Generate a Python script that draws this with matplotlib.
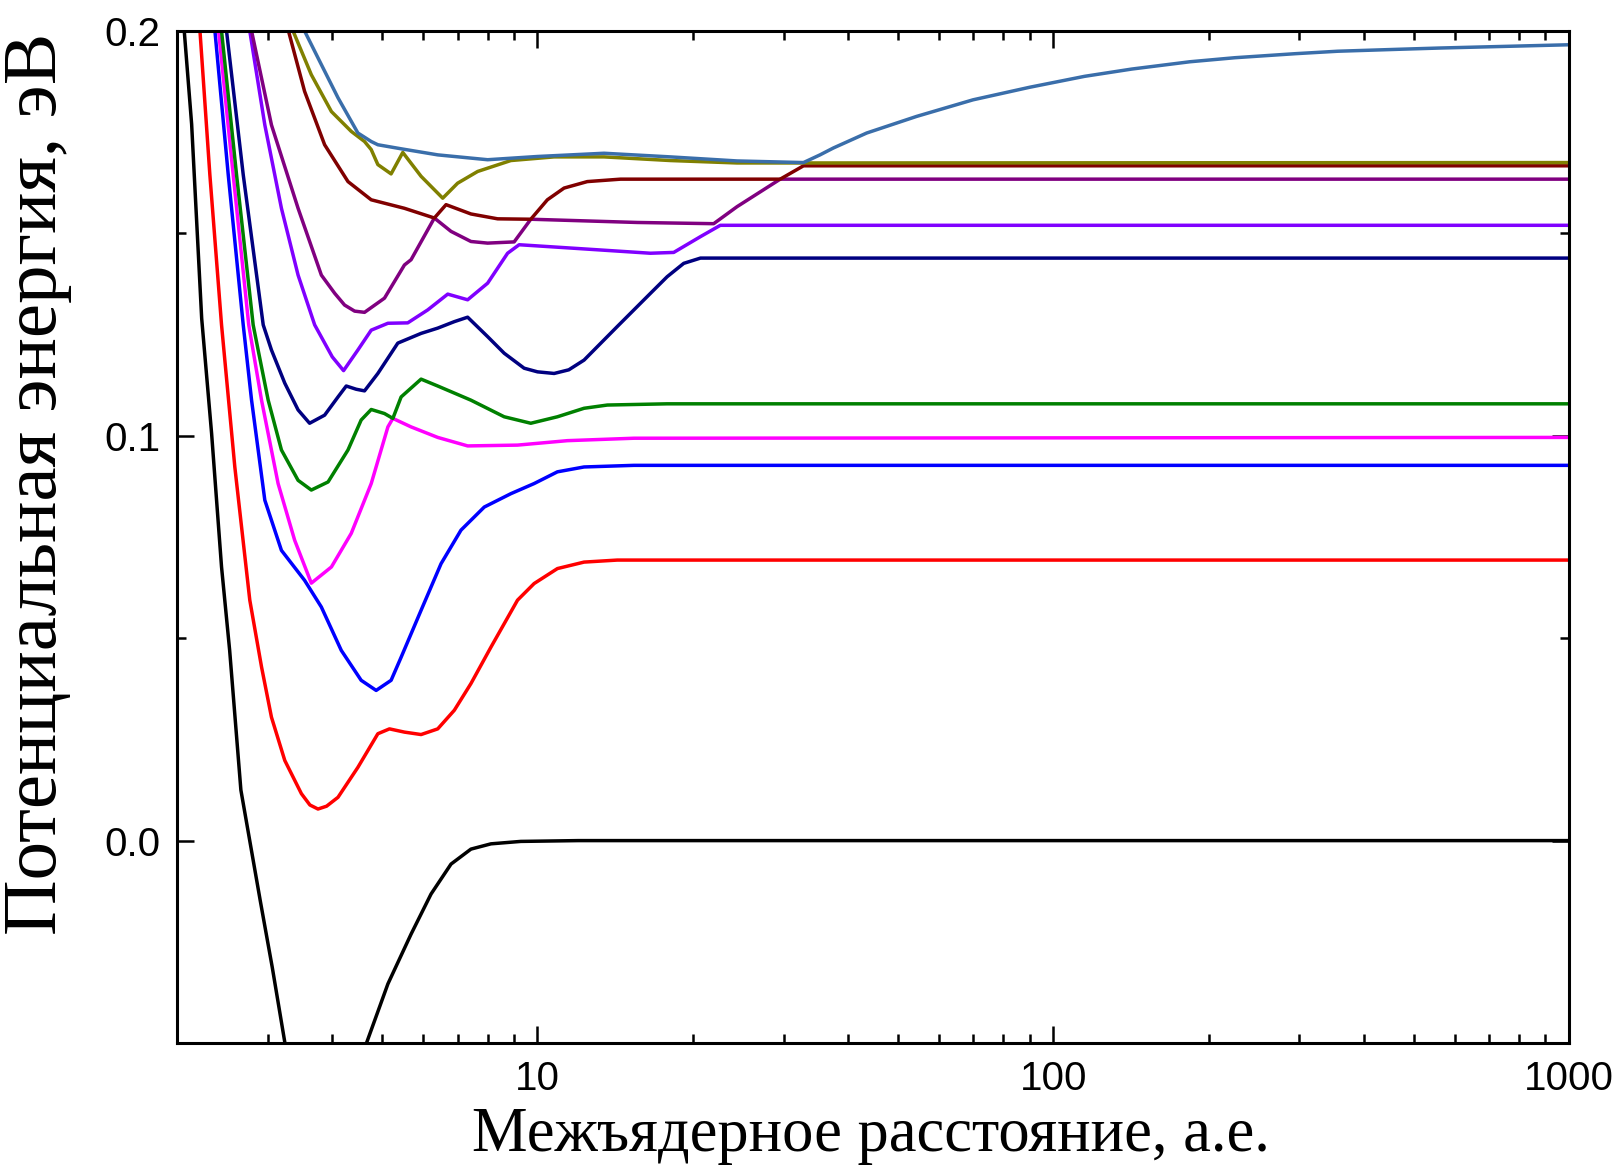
import matplotlib
matplotlib.use("Agg")
import matplotlib.pyplot as plt
from matplotlib.ticker import FixedLocator, LogLocator, NullFormatter, FuncFormatter

# interatomic distance (a.u.) / potential energy (eV)
r_black = [2.067, 2.135, 2.233, 2.334, 2.44, 2.53, 2.66, 2.9, 3.06, 3.24, 3.85,
           4.655, 5.128, 5.687, 6.217, 6.797, 7.43, 8.124, 9.28, 12.0, 1000]
e_black = [0.1996, 0.177, 0.129, 0.1006, 0.0676, 0.047, 0.0125, -0.0148, -0.0313, -0.0502, -0.08,
           -0.0502, -0.0354, -0.0231, -0.0132, -0.0058, -0.0021, -0.0008, -0.0002, 0.0, 0.0]

r_red = [2.216, 2.316, 2.44, 2.589, 2.768, 2.917, 3.049, 3.236, 3.485, 3.62, 3.753, 3.9, 4.104, 4.485,
         4.903, 5.164, 5.521, 5.947, 6.406, 6.898, 7.43, 8.124, 9.147, 9.85, 10.93, 12.31, 14.28, 1000]
e_red = [0.2, 0.1645, 0.1274, 0.0923, 0.0594, 0.0429, 0.0305, 0.0198, 0.0116, 0.0088, 0.0078, 0.0085, 0.0107, 0.0181,
         0.0264, 0.0276, 0.0268, 0.0262, 0.0276, 0.0322, 0.0388, 0.0478, 0.0594, 0.0635, 0.0672, 0.0688, 0.0693, 0.0693]

r_blue = [2.369, 2.514, 2.688, 2.79, 2.96, 3.188, 3.535, 3.81, 4.164, 4.551, 4.866, 5.202, 5.44,
          5.947, 6.501, 7.107, 7.885, 8.878, 9.85, 10.93, 12.31, 15.38, 1000]
e_blue = [0.2, 0.1645, 0.1274, 0.1088, 0.0841, 0.0717, 0.0643, 0.0577, 0.047, 0.0396, 0.0371, 0.0396, 0.0453,
          0.0569, 0.0684, 0.0767, 0.0824, 0.0857, 0.0882, 0.0911, 0.0923, 0.0927, 0.0927]

r_magenta = [2.408, 2.57, 2.755, 2.917, 3.141, 3.382, 3.643, 3.985, 4.354, 4.76, 5.128, 5.243,
             5.687, 6.406, 7.321, 9.147, 11.43, 15.38, 1000]
e_magenta = [0.2, 0.1645, 0.1274, 0.1088, 0.0882, 0.0742, 0.0636, 0.0676, 0.0759, 0.0882, 0.1022, 0.1043,
             0.1022, 0.0996, 0.0975, 0.0977, 0.0988, 0.0994, 0.0996]

r_green = [2.44, 2.609, 2.81, 2.873, 3.005, 3.188, 3.434, 3.643, 3.926, 4.291, 4.551, 4.76, 5.05,
           5.243, 5.44, 5.947, 6.406, 7.43, 8.618, 9.705, 10.93, 12.31, 13.66, 17.84, 1000]
e_green = [0.2, 0.1645, 0.1274, 0.1212, 0.1088, 0.0965, 0.089, 0.0866, 0.0886, 0.0965, 0.1039, 0.1065, 0.1055,
           0.1043, 0.1096, 0.114, 0.1123, 0.1088, 0.1047, 0.1031, 0.1047, 0.1068, 0.1076, 0.1079, 0.1079]

r_navy = [2.495, 2.688, 2.939, 3.049, 3.236, 3.434, 3.615, 3.866, 4.104, 4.258, 4.452, 4.62, 4.903,
          5.36, 5.947, 6.406, 6.898, 7.321, 8.004, 8.618, 9.42, 10.0, 10.77, 11.5, 12.31, 14.28, 16.56,
          17.84, 19.21, 20.7, 1000]
e_navy = [0.2, 0.1645, 0.1274, 0.1212, 0.113, 0.1064, 0.1031, 0.1051, 0.1096, 0.1123, 0.1115, 0.1111, 0.1154,
          0.1229, 0.1253, 0.1266, 0.1282, 0.1293, 0.1245, 0.1204, 0.1167, 0.1158, 0.1154, 0.1163, 0.1187, 0.127, 0.1352,
          0.1393, 0.1426, 0.1439, 0.1439]

r_violet = [2.768, 2.96, 3.188, 3.434, 3.698, 3.81, 4.0, 4.207, 4.485, 4.76, 5.128, 5.603, 6.126,
            6.698, 7.321, 8.004, 8.75, 9.213, 10.61, 13.26, 16.56, 18.37, 20.7, 22.62, 1000]
e_violet = [0.2, 0.1768, 0.1562, 0.1397, 0.1274, 0.1244, 0.1195, 0.1161, 0.1212, 0.1261, 0.1278, 0.1279, 0.1311,
            0.135, 0.1336, 0.1377, 0.1451, 0.1472, 0.1467, 0.1459, 0.1451, 0.1453, 0.1492, 0.152, 0.152]

r_purple = [2.79, 3.049, 3.434, 3.81, 4.044, 4.226, 4.42, 4.62, 5.05, 5.521, 5.687, 6.31, 6.797, 7.43,
            8.004, 9.01, 9.705, 11.6, 15.61, 21.96, 24.37, 29.55, 1000]
e_purple = [0.2, 0.1768, 0.1562, 0.1397, 0.1352, 0.1323, 0.1308, 0.1305, 0.134, 0.1422, 0.1435, 0.1538, 0.1505, 0.148,
            0.1476, 0.1479, 0.1535, 0.1532, 0.1527, 0.1524, 0.1566, 0.1634, 0.1634]

r_darkred = [3.29, 3.535, 3.866, 4.291, 4.76, 5.521, 6.31, 6.648, 7.43, 8.37, 9.705, 10.45, 11.26,
             12.49, 14.49, 29.55, 32.79, 1000]
e_darkred = [0.2, 0.1851, 0.1719, 0.1628, 0.1583, 0.1562, 0.1538, 0.1571, 0.1548, 0.1536, 0.1535, 0.1583, 0.1612,
             0.1628, 0.1634, 0.1634, 0.1667, 0.1667]

r_olive = [3.358, 3.643, 3.985, 4.354, 4.62, 4.76, 4.903, 5.202, 5.48, 5.947, 6.55, 7.0, 7.655, 8.878,
           10.77, 13.46, 18.1, 24.37, 32.79, 1000]
e_olive = [0.2, 0.1892, 0.1801, 0.1752, 0.1727, 0.1707, 0.167, 0.1647, 0.17, 0.1641, 0.1587, 0.1624, 0.1653, 0.168,
           0.1689, 0.1689, 0.168, 0.1674, 0.1674, 0.1675]

r_steel = [3.535, 3.81, 4.104, 4.485, 4.76, 4.903, 5.44, 6.406, 8.004, 10.0, 13.46, 18.1, 24.37, 32.79,
           35.3, 37.47, 43.48, 54.33, 69.9, 90.0, 115.0, 142.0, 184.0, 225.0, 295.0, 356.0, 472.0, 564.0, 1000]
e_steel = [0.2, 0.1917, 0.1835, 0.1748, 0.1727, 0.1719, 0.1709, 0.1694, 0.1682, 0.169, 0.1698, 0.1689, 0.1679, 0.1675,
           0.1694, 0.1711, 0.1748, 0.1789, 0.183, 0.1861, 0.1888, 0.1906, 0.1924, 0.1934, 0.1944, 0.195, 0.1955, 0.1958,
           0.1966]

curves = [
    (r_black, e_black, "#000000"),
    (r_red, e_red, "#ff0000"),
    (r_blue, e_blue, "#0000ff"),
    (r_magenta, e_magenta, "#ff00ff"),
    (r_green, e_green, "#008000"),
    (r_navy, e_navy, "#000080"),
    (r_violet, e_violet, "#8000ff"),
    (r_purple, e_purple, "#800080"),
    (r_darkred, e_darkred, "#800000"),
    (r_olive, e_olive, "#808000"),
    (r_steel, e_steel, "#3a6eaa"),
]

W, H = 1615, 1176
fig = plt.figure(figsize=(W / 100, H / 100), dpi=100)
ax = fig.add_axes([177 / W, 1 - 1043 / H, (1569 - 177) / W, (1043 - 31) / H])

for r, e, c in curves:
    ax.plot(r, e, color=c, lw=2.5, solid_joinstyle="round")

ax.set_xscale("log")
ax.set_xlim(2, 1000)
ax.set_ylim(-0.05, 0.2)

ax.xaxis.set_major_locator(FixedLocator([10, 100, 1000]))
ax.xaxis.set_minor_locator(LogLocator(base=10, subs=range(2, 10), numticks=20))
ax.xaxis.set_major_formatter(FuncFormatter(lambda v, p: f"{v:.0f}"))
ax.xaxis.set_minor_formatter(NullFormatter())
ax.yaxis.set_major_locator(FixedLocator([0.0, 0.1, 0.2]))
ax.yaxis.set_minor_locator(FixedLocator([-0.05, 0.05, 0.15]))
ax.yaxis.set_major_formatter(FuncFormatter(lambda v, p: f"{v:.1f}"))

tick_font = ["Liberation Sans Narrow", "Liberation Sans"]
ax.tick_params(which="both", direction="in", top=True, right=True, width=1.8)
ax.tick_params(which="major", length=12, pad=12, labelsize=29)
ax.tick_params(which="minor", length=6.5)
for lab in ax.get_xticklabels() + ax.get_yticklabels():
    lab.set_family(tick_font)

for s in ax.spines.values():
    s.set_linewidth(2.2)

fig.text(38 / W, 1 - 484 / H, "Потенциальная энергия, эВ", rotation=90,
         ha="center", va="center", family="Liberation Serif", fontsize=55.5)
fig.text(871 / W, 1 - 1151 / H, "Межъядерное расстояние, а.е.",
         ha="center", va="baseline", family="Liberation Serif", fontsize=45)

fig.savefig("out.png", dpi=100)
